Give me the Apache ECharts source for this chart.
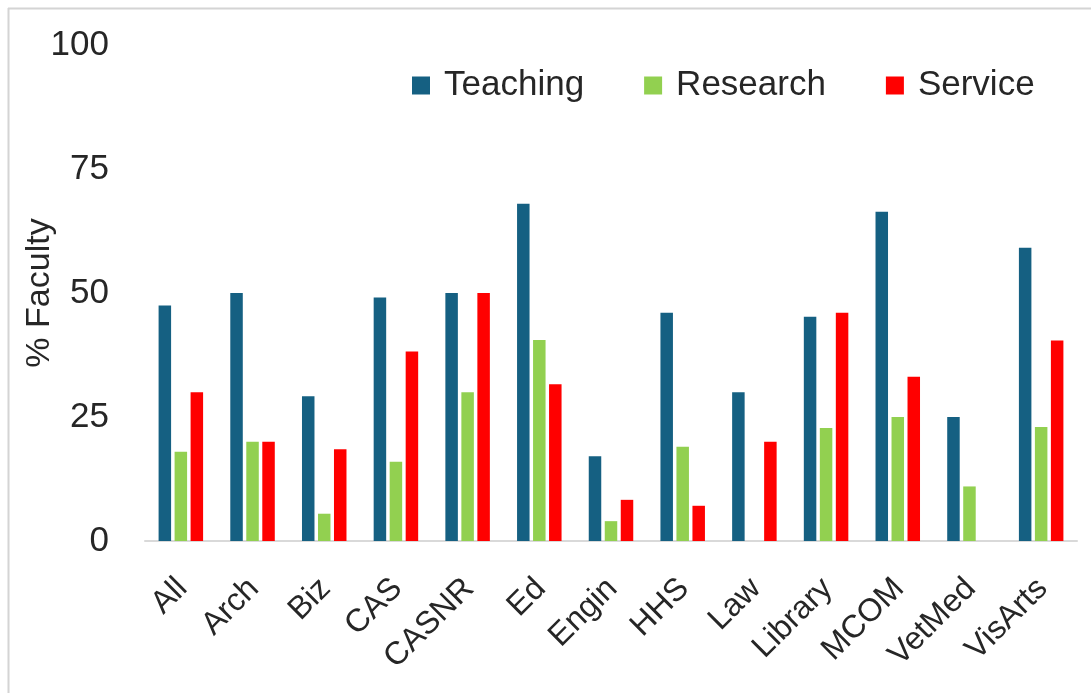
<!DOCTYPE html>
<html>
<head>
<meta charset="utf-8">
<style>
  html, body { margin: 0; padding: 0; background: #ffffff; }
  #chart { width: 1091px; height: 693px; }
</style>
<script src="https://cdn.jsdelivr.net/npm/echarts@6/dist/echarts.min.js"></script>
</head>
<body>
<div id="chart"></div>
<script>
// Share of faculty by college reporting each area of effort
const colleges = ['All', 'Arch', 'Biz', 'CAS', 'CASNR', 'Ed', 'Engin', 'HHS', 'Law', 'Library', 'MCOM', 'VetMed', 'VisArts'];
const teaching = [47.5, 50, 29.2, 49.1, 50, 68, 17.1, 46, 30, 45.2, 66.4, 25, 59.1];
const research = [18, 20, 5.5, 16, 30, 40.5, 4, 19, 0, 22.8, 25, 11, 23];
const service  = [30, 20, 18.5, 38.2, 50, 31.6, 8.3, 7.1, 20, 46, 33.1, 0, 40.4];
const yTicks = [0, 25, 50, 75, 100];

const FONT = '"Liberation Sans", Arial, sans-serif';
const TEXT = '#262626';

const chart = echarts.init(document.getElementById('chart'), null, { renderer: 'canvas' });

function barSeries(name, data, color) {
  return {
    name: name,
    type: 'bar',
    data: data,
    barWidth: 12.5,
    barGap: '28%',
    itemStyle: { color: color },
    emphasis: { disabled: true }
  };
}

chart.setOption({
  animation: false,
  backgroundColor: '#ffffff',
  textStyle: { fontFamily: FONT },
  grid: { left: 145, right: 14, top: 45, bottom: 152, containLabel: false, outerBoundsMode: 'none' },
  legend: {
    top: 68,
    left: 412,
    padding: 0,
    itemWidth: 18,
    itemHeight: 18,
    itemGap: 60,
    icon: 'rect',
    selectedMode: false,
    textStyle: { fontFamily: FONT, fontSize: 35, color: TEXT, padding: [0, 0, 0, 9] },
    data: ['Teaching', 'Research', 'Service']
  },
  xAxis: {
    type: 'category',
    data: colleges,
    axisLine: { show: true, lineStyle: { color: '#d9d9d9', width: 2 } },
    axisTick: { show: false },
    axisLabel: {
      rotate: 45,
      interval: 0,
      margin: 44,
      fontFamily: FONT,
      fontSize: 32,
      color: TEXT,
      padding: [0, -2, 0, 0]
    }
  },
  yAxis: {
    type: 'value',
    min: yTicks[0],
    max: yTicks[yTicks.length - 1],
    interval: 25,
    name: '% Faculty',
    nameLocation: 'middle',
    nameGap: 88,
    nameMoveOverlap: false,
    nameTextStyle: { fontFamily: FONT, fontSize: 34, color: TEXT },
    axisLine: { show: false },
    axisTick: { show: false },
    splitLine: { show: false },
    axisLabel: { fontFamily: FONT, fontSize: 35, color: TEXT, margin: 36 }
  },
  graphic: [
    { type: 'line', shape: { x1: 8, y1: 8.5, x2: 1091, y2: 8.5 }, style: { stroke: '#d4d4d4', lineWidth: 2 }, silent: true },
    { type: 'line', shape: { x1: 8.5, y1: 8, x2: 8.5, y2: 693 }, style: { stroke: '#d4d4d4', lineWidth: 2 }, silent: true }
  ],
  series: [
    barSeries('Teaching', teaching, '#156082'),
    barSeries('Research', research, '#92d050'),
    barSeries('Service', service, '#ff0000')
  ]
});
</script>
</body>
</html>
